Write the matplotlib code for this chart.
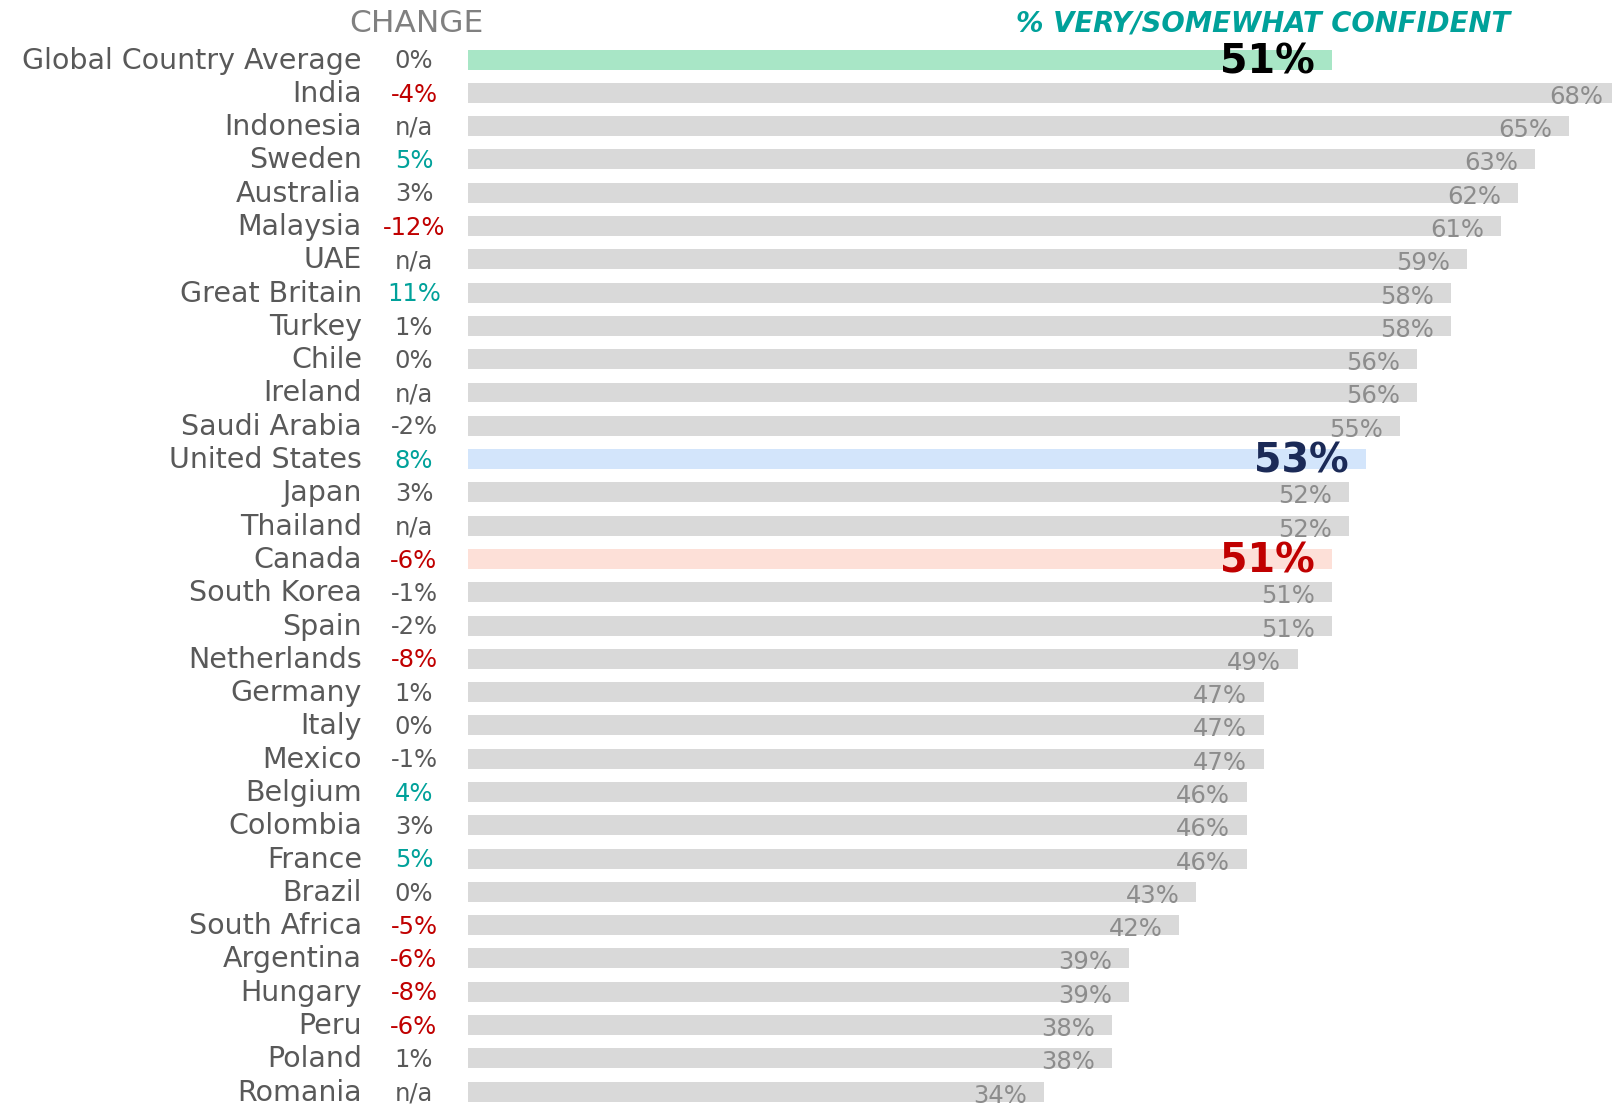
import matplotlib
matplotlib.use("Agg")
import matplotlib.pyplot as plt
from matplotlib.transforms import blended_transform_factory

countries = ["Global Country Average", "India", "Indonesia", "Sweden", "Australia", "Malaysia",
             "UAE", "Great Britain", "Turkey", "Chile", "Ireland", "Saudi Arabia",
             "United States", "Japan", "Thailand", "Canada", "South Korea", "Spain",
             "Netherlands", "Germany", "Italy", "Mexico", "Belgium", "Colombia", "France",
             "Brazil", "South Africa", "Argentina", "Hungary", "Peru", "Poland", "Romania"]
values = [51, 68, 65, 63, 62, 61, 59, 58, 58, 56, 56, 55, 53, 52, 52, 51, 51, 51, 49,
          47, 47, 47, 46, 46, 46, 43, 42, 39, 39, 38, 38, 34]
changes = ["0%", "-4%", "n/a", "5%", "3%", "-12%", "n/a", "11%", "1%", "0%", "n/a", "-2%",
           "8%", "3%", "n/a", "-6%", "-1%", "-2%", "-8%", "1%", "0%", "-1%", "4%", "3%",
           "5%", "0%", "-5%", "-6%", "-8%", "-6%", "1%", "n/a"]

RED = "#c00000"
TEAL = "#00a19a"
GREY_T = "#595959"

def change_color(c):
    if c == "n/a":
        return GREY_T
    v = int(c.rstrip("%"))
    if v <= -4:
        return RED
    if v >= 4:
        return TEAL
    return GREY_T

highlight = {
    "Global Country Average": ("#a8e6c6", "#000000"),
    "United States": ("#d3e5fb", "#1b2a57"),
    "Canada": ("#fde0d8", RED),
}

plt.rcParams["font.family"] = ["DejaVu Sans"]

W, H = 1612, 1106
fig = plt.figure(figsize=(W / 100, H / 100), dpi=100)
x0 = 468
px_per_unit = 16.94
ax = fig.add_axes([x0 / W, 0, (W - x0) / W, 1])
ax.set_xlim(0, (W - x0) / px_per_unit)
row0 = 59.6
step = 33.29
ax.set_ylim((H - row0) / step, -row0 / step)
ax.axis("off")

n = len(countries)
ys = list(range(n))
bar_colors = [highlight.get(c, ("#d9d9d9", None))[0] for c in countries]
ax.barh(ys, values, height=0.6, color=bar_colors, clip_on=False)

trans = blended_transform_factory(fig.transFigure, ax.transData)
for i, (c, v, ch) in enumerate(zip(countries, values, changes)):
    ax.text(362 / W, i + 0.03, c, transform=trans, ha="right", va="center",
            fontsize=20.5, color=GREY_T)
    ax.text(414 / W, i + 0.05, ch, transform=trans, ha="center", va="center",
            fontsize=17.5, color=change_color(ch))
    if c in highlight:
        ax.text(v - 1.0, i + 0.08, f"{v}%", ha="right", va="center", fontsize=28.5,
                fontweight="bold", color=highlight[c][1], clip_on=False)
    else:
        ax.text(v - 1.0, i + 0.12, f"{v}%", ha="right", va="center", fontsize=17.5,
                color="#8c8c8c", clip_on=False)

fig.text(416 / W, 1 - 23 / H, "CHANGE", ha="center", va="center", fontsize=22.5,
         color="#808080")
fig.text(1263 / W, 1 - 23 / H, "% VERY/SOMEWHAT CONFIDENT", ha="center", va="center",
         fontsize=19.8, color=TEAL, fontweight="bold", fontstyle="italic")

fig.savefig("out.png", dpi=100)
